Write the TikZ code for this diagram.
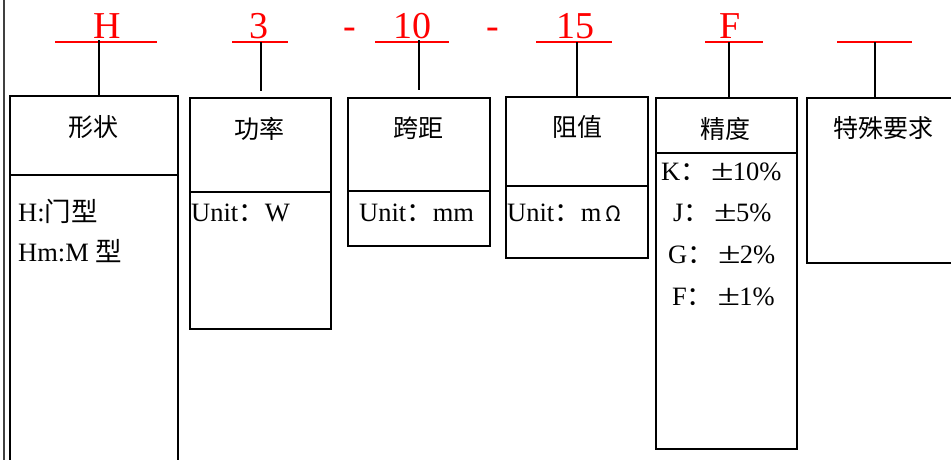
\documentclass[tikz,border=0pt]{standalone}
\usepackage{fontspec}
\setmainfont{Liberation Serif}
\newfontfamily\cjk{Noto Sans CJK SC}
\newcommand{\pmw}{\hspace{5pt}\makebox[21pt]{\scalebox{1.55}[1.15]{±}}}
\begin{document}
\begin{tikzpicture}[x=1pt,y=-1pt,
  box/.style={draw=black,line width=1.5pt,inner sep=0pt,anchor=north west},
  divider/.style={line width=2.6pt},
  stem/.style={line width=1.6pt},
  redline/.style={draw=red,line width=1.6pt},
  redlab/.style={text=red,inner sep=0pt,anchor=base,font=\fontsize{38}{40}\selectfont},
  title/.style={inner sep=0pt,anchor=center,font=\cjk\fontsize{25}{28}\selectfont},
  body/.style={inner sep=0pt,anchor=base west,font=\fontsize{26.5}{28}\selectfont}]
\useasboundingbox (0,0) rectangle (951,459);
\fill[white] (0,0) rectangle (951,459);
% left edge line
\draw[line width=1.5pt,black!75] (4,-5) -- (4,470);
% boxes
\node[box,minimum width=168pt,minimum height=380pt] (b1) at (9,95) {};
\node[box,minimum width=141pt,minimum height=231pt] (b2) at (189,97) {};
\node[box,minimum width=142pt,minimum height=148pt] (b3) at (347,97) {};
\node[box,minimum width=142pt,minimum height=161pt] (b4) at (505,96) {};
\node[box,minimum width=141pt,minimum height=351pt] (b5) at (655,97) {};
\node[box,minimum width=160pt,minimum height=165pt] (b6) at (806,97) {};
% dividers
\draw[divider] (9,175) coordinate (d1a) -- (177,175) coordinate (d1b);
\draw[divider] (189,192) coordinate (d2a) -- (330,192) coordinate (d2b);
\draw[divider] (347,191) coordinate (d3a) -- (489,191) coordinate (d3b);
\draw[divider] (505,186) coordinate (d4a) -- (647,186) coordinate (d4b);
\draw[divider] (655,153) coordinate (d5a) -- (796,153) coordinate (d5b);
% red lines
\coordinate (r1a) at (55,42);  \coordinate (r1b) at (157,42);
\coordinate (r2a) at (232,42); \coordinate (r2b) at (288,42);
\coordinate (r3a) at (375,42); \coordinate (r3b) at (449,42);
\coordinate (r4a) at (536,42); \coordinate (r4b) at (612,42);
\coordinate (r5a) at (705,42); \coordinate (r5b) at (763,42);
\coordinate (r6a) at (837,42); \coordinate (r6b) at (912,42);
\draw[redline] (r1a) -- (r1b);
\draw[redline] (r2a) -- (r2b);
\draw[redline] (r3a) -- (r3b);
\draw[redline] (r4a) -- (r4b);
\draw[redline] (r5a) -- (r5b);
\draw[redline] (r6a) -- (r6b);
% red labels
\node[redlab] (lH) at (107,38) {H};
\node[redlab] (l3) at (259,38) {3};
\node[redlab] (lm1) at (350,38) {-};
\node[redlab] (l10) at (412,38) {10};
\node[redlab] (lm2) at (493,38) {-};
\node[redlab] (l15) at (575,38) {15};
\node[redlab] (lF) at (730,38) {F};
% stems
\coordinate (s1) at (99,40);
\coordinate (s2) at (261,42); \coordinate (s2e) at (261,91);
\coordinate (s3) at (419,40); \coordinate (s3e) at (419,90);
\coordinate (s4) at (577,42);
\coordinate (s5) at (729,42);
\coordinate (s6) at (875,42);
\draw[line width=2.8pt] (s1) -- (s1 |- b1.north);
\draw[stem] (s2) -- (s2e);
\draw[stem] (s3) -- (s3e);
\draw[stem] (s4) -- (s4 |- b4.north);
\draw[stem] (s5) -- (s5 |- b5.north);
\draw[stem] (s6) -- (s6 |- b6.north);
% titles
\node[title] (t1) at (93,127) {形状};
\node[title] (t2) at (259,129) {功率};
\node[title] (t3) at (418,128) {跨距};
\node[title] (t4) at (577,127) {阻值};
\node[title] (t5) at (725,129) {精度};
\node[title] (t6) at (883,128) {特殊要求};
% body texts
\node[body] (x1) at (18,221) {H:{\cjk 门型}};
\node[body] (x2) at (18,261) {Hm:M {\cjk 型}};
\node[body] (x3) at (191,221) {Unit{\cjk ：}W};
\node[body] (x4) at (359,221) {Unit{\cjk ：}mm};
\node[body] (x5) at (507,221) {Unit{\cjk ：}m\,{\cjk\fontsize{21}{24}\selectfont Ω}};
\node[body] (k1) at (661,180) {K{\cjk ：}\pmw 10\%};
\node[body] (k2) at (673,221) {J{\cjk ：}\pmw 5\%};
\node[body] (k3) at (668,263) {G{\cjk ：}\pmw 2\%};
\node[body] (k4) at (672,305) {F{\cjk ：}\pmw 1\%};
\end{tikzpicture}
\end{document}
